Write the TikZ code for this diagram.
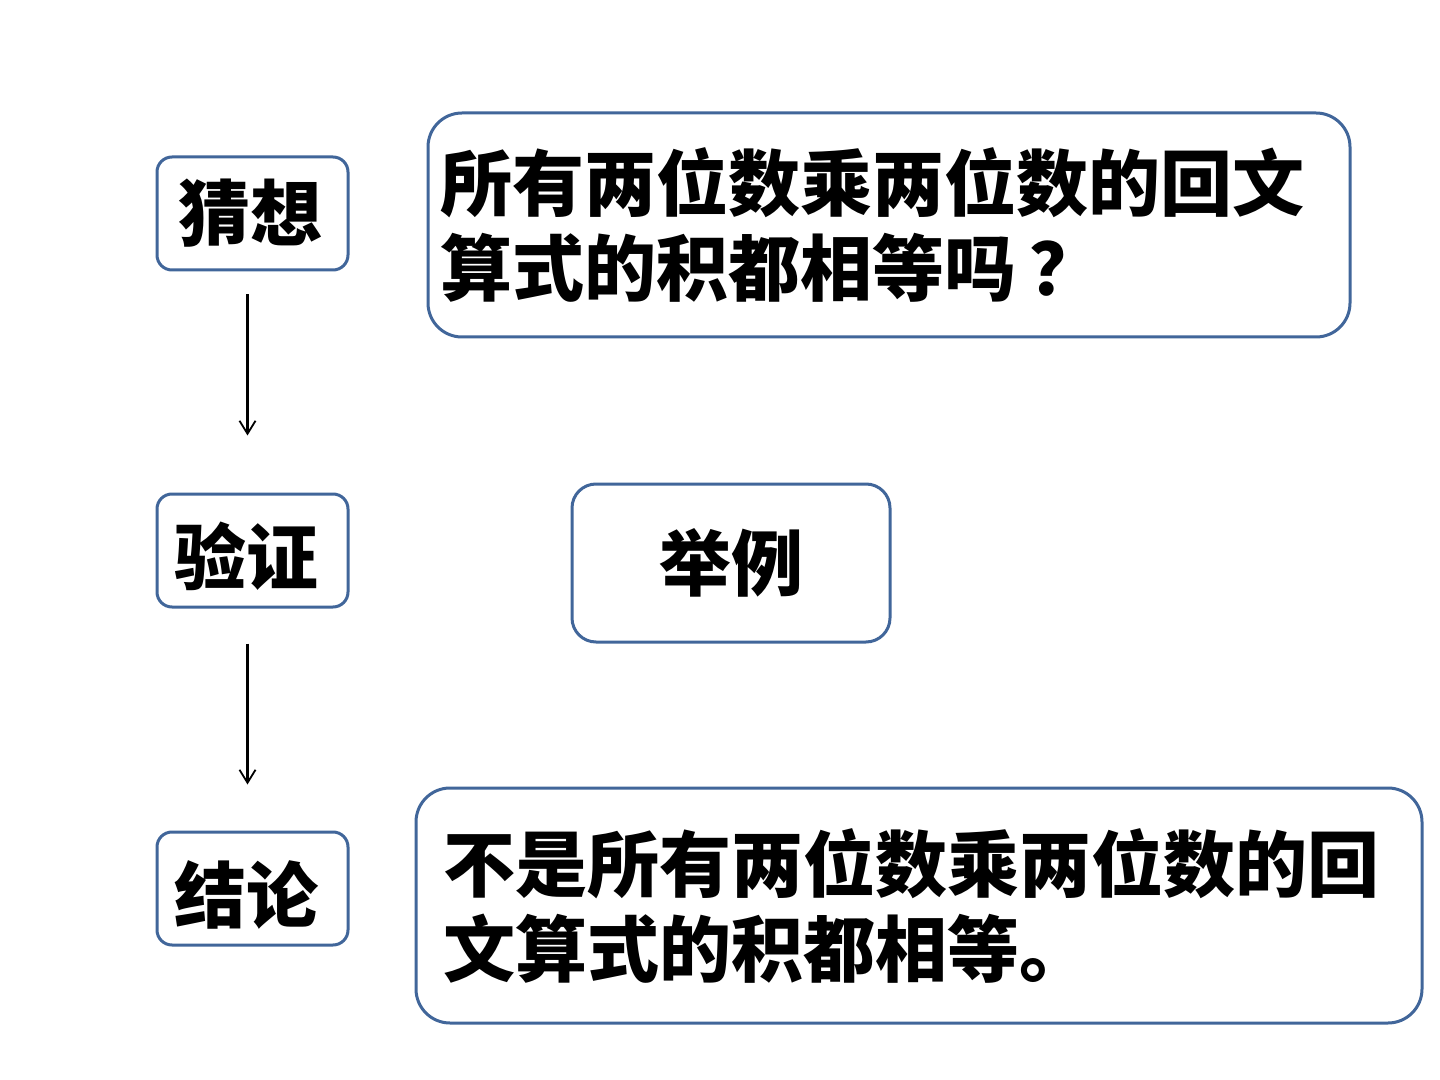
\documentclass[tikz,border=0pt]{standalone}
\usepackage{fontspec}
\newfontfamily\cjk{Noto Sans CJK SC}
\usetikzlibrary{arrows.meta}
\definecolor{boxblue}{HTML}{41669A}
\newcommand{\nudge}[3]{\raisebox{#2}[\height][\depth]{\kern#1#3\kern-#1}}
\tikzset{
  stagebox/.style={draw=boxblue, line width=1.5pt, rounded corners=7.5pt, fill=white,
    minimum width=95.5pt, minimum height=56.5pt, inner sep=0pt,
    font=\cjk\bfseries\fontsize{36pt}{42.5pt}\selectfont},
  textbox/.style={draw=boxblue, line width=1.5pt, rounded corners=17pt, fill=white,
    inner ysep=0pt, align=left,
    font=\cjk\bfseries\fontsize{36pt}{42.5pt}\selectfont},
  flowarrow/.style={draw=black, line width=1.2pt, -{Straight Barb[length=6.5pt,width=8pt,line width=0.9pt]}}
}
\begin{document}
\begin{tikzpicture}[x=0.5pt,y=-0.5pt]
\useasboundingbox[fill=white] (0,0) rectangle (1440,1080);
\node[stagebox] (guess) at (252.5,213.5) {\nudge{-1pt}{0pt}{猜想}};
\node[stagebox] (verify) at (252.5,550.5) {\nudge{-3pt}{-3pt}{验证}};
\node[stagebox] (concl) at (252.5,888.5) {\nudge{-3pt}{-3pt}{结论}};
\node[textbox, inner xsep=6pt, text width=449pt, minimum width=461pt, minimum height=112pt] (q) at (889,225)
  {所有两位数乘两位数的回文\\算式的积都相等吗\hspace{7pt}？};
\node[textbox, rounded corners=12pt, minimum width=159pt, minimum height=79pt, inner sep=0pt, align=center] (ex) at (731,563) {举例};
\node[textbox, inner xsep=13.5pt, text width=476pt, minimum width=503pt, minimum height=117.5pt] (c) at (919,905.5)
  {不是所有两位数乘两位数的回\\文算式的积都相等。};
\draw[flowarrow, shorten <=11.5pt, shorten >=28.5pt] ([xshift=-2.5pt]guess.south) -- ([xshift=-2.5pt]verify.north);
\draw[flowarrow, shorten <=17.5pt, shorten >=23pt] ([xshift=-2.5pt]verify.south) -- ([xshift=-2.5pt]concl.north);
\end{tikzpicture}
\end{document}
